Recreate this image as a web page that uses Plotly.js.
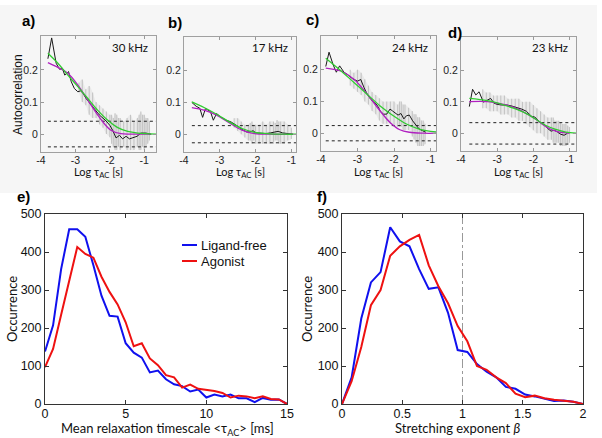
<!DOCTYPE html>
<html>
<head>
<meta charset="utf-8">
<script src="https://cdn.plot.ly/plotly-3.0.1.min.js"></script>
<style>html,body{margin:0;padding:0;background:#fff;}#chart{width:602px;height:438px;}</style>
</head>
<body>
<div id="chart"></div>
<script>
// ---------- Top panels: autocorrelation vs log tau_AC ----------
const topTickVals = [-4, -3, -2, -1];
const topTickText = ['-4', '-3', '-2', '-1'];
const acTickVals = [0, 0.1, 0.2];
const acTickText = ['0', '0.1', '0.2'];
const freqLabels = ['30 kHz', '17 kHz', '24 kHz', '23 kHz'];
const panelLabels = ['a)', 'b)', 'c)', 'd)', 'e)', 'f)'];

// Panel a
const aBlackX = [-3.8, -3.69, -3.56, -3.46, -3.38, -3.31, -3.2, -3.12, -3.03, -2.93, -2.85, -2.78, -2.69, -2.59, -2.5, -2.4, -2.3, -2.2, -2.11, -2.0, -1.92, -1.82, -1.72, -1.63, -1.53, -1.43, -1.34, -1.21, -1.1, -0.95, -0.8];
const aBlackY = [0.235, 0.3, 0.221, 0.202, 0.205, 0.184, 0.195, 0.163, 0.142, 0.132, 0.135, 0.127, 0.111, 0.097, 0.083, 0.072, 0.059, 0.051, 0.041, 0.027, 0.012, -0.012, -0.004, -0.015, -0.007, -0.015, -0.012, -0.007, 0.003, 0.003, -0.001];
const aMagX = [-3.8, -3.51, -3.22, -2.93, -2.64, -2.35, -2.16, -1.97, -1.68, -1.3, -0.8];
const aMagY = [0.223, 0.208, 0.19, 0.153, 0.106, 0.059, 0.032, 0.012, 0.001, 0, 0];
const aGrnX = [-3.8, -3.51, -3.22, -2.93, -2.64, -2.35, -2.06, -1.77, -1.48, -1.19, -0.66];
const aGrnY = [0.252, 0.221, 0.184, 0.148, 0.111, 0.074, 0.043, 0.02, 0.008, 0.003, 0];
const aThr = 0.04;
const aThrX = [-3.8, -0.66];
const aStrX = [-2.9, -2.8, -2.7, -2.6, -2.5, -2.4, -2.3, -2.2, -2.1, -2.0, -1.95, -1.9, -1.85, -1.8, -1.75, -1.7, -1.6, -1.5, -1.4, -1.3, -1.2, -1.15, -1.1, -1.05, -1.0, -0.95, -0.9, -0.85];
const aStrLo = [0.13, 0.1, 0.09, 0.06, 0.05, 0.05, 0.03, 0.02, 0.0, -0.01, -0.03, -0.04, -0.05, -0.05, -0.04, -0.05, -0.04, -0.05, -0.05, -0.05, -0.04, -0.05, -0.05, -0.04, -0.05, -0.04, -0.03, -0.02];
const aStrHi = [0.16, 0.17, 0.14, 0.15, 0.13, 0.1, 0.09, 0.08, 0.07, 0.06, 0.06, 0.05, 0.065, 0.06, 0.05, 0.05, 0.04, 0.05, 0.06, 0.04, 0.05, 0.06, 0.07, 0.06, 0.06, 0.05, 0.05, 0.04];

// Panel b
const bBlackX = [-3.78, -3.66, -3.56, -3.48, -3.4, -3.26, -3.18, -3.09, -2.96, -2.82, -2.69, -2.56, -2.47, -2.38, -2.25, -2.16, -2.07, -1.99, -1.85, -1.72, -1.59, -1.46, -1.37, -1.24, -1.1, -0.95];
const bBlackY = [0.1, 0.088, 0.082, 0.053, 0.081, 0.071, 0.044, 0.065, 0.053, 0.044, 0.039, 0.031, 0.023, 0.015, 0.007, 0.007, 0.011, 0.004, 0.002, 0.002, 0.004, 0.007, 0.009, 0.004, 0.001, 0.0];
const bMagX = [-3.78, -3.44, -3.09, -2.74, -2.38, -2.03, -1.6, -0.95];
const bMagY = [0.084, 0.076, 0.06, 0.036, 0.013, 0.002, 0, 0];
const bGrnX = [-3.78, -3.44, -3.09, -2.74, -2.38, -2.03, -1.68, -1.2, -0.87];
const bGrnY = [0.102, 0.084, 0.063, 0.039, 0.018, 0.006, 0.002, 0.0, 0];
const bThr = 0.027;
const bThrX = [-3.78, -0.87];
const bStrX = [-2.6, -2.5, -2.4, -2.3, -2.2, -2.15, -2.1, -2.05, -2.0, -1.9, -1.8, -1.7, -1.6, -1.5, -1.45, -1.4, -1.35, -1.3, -1.2, -1.1, -1.0];
const bStrLo = [0.02, 0.01, 0.0, -0.01, -0.02, -0.02, -0.03, -0.02, -0.03, -0.03, -0.03, -0.03, -0.03, -0.03, -0.02, -0.02, -0.03, -0.03, -0.03, -0.02, -0.015];
const bStrHi = [0.05, 0.05, 0.04, 0.03, 0.03, 0.035, 0.04, 0.03, 0.03, 0.03, 0.04, 0.03, 0.04, 0.04, 0.035, 0.045, 0.04, 0.04, 0.04, 0.03, 0.02];

// Panel c
const cBlackX = [-3.87, -3.78, -3.67, -3.58, -3.49, -3.37, -3.27, -3.13, -3.0, -2.91, -2.82, -2.73, -2.64, -2.55, -2.46, -2.38, -2.29, -2.2, -2.11, -2.04, -1.97, -1.89, -1.81, -1.73, -1.66, -1.58, -1.49, -1.4, -1.31, -1.22, -1.13];
const cBlackY = [0.21, 0.255, 0.216, 0.192, 0.212, 0.192, 0.184, 0.171, 0.164, 0.169, 0.143, 0.122, 0.107, 0.096, 0.088, 0.07, 0.06, 0.06, 0.076, 0.07, 0.065, 0.057, 0.062, 0.045, 0.055, 0.057, 0.039, 0.024, 0.013, 0.008, 0.003];
const cMagX = [-3.87, -3.44, -3.09, -2.73, -2.38, -2.11, -1.84, -1.58, -1.2, -0.85];
const cMagY = [0.205, 0.195, 0.169, 0.122, 0.07, 0.034, 0.011, 0.003, 0.0, 0];
const cGrnX = [-3.87, -3.44, -3.09, -2.73, -2.38, -2.02, -1.66, -1.31, -0.85];
const cGrnY = [0.236, 0.195, 0.159, 0.122, 0.086, 0.055, 0.029, 0.013, 0.004];
const cThr = 0.024;
const cThrX = [-3.87, -0.85];
const cStrX = [-3.2, -3.1, -3.0, -2.9, -2.8, -2.7, -2.6, -2.5, -2.4, -2.3, -2.2, -2.1, -2.0, -1.9, -1.85, -1.8, -1.75, -1.7, -1.6, -1.5, -1.45, -1.4, -1.35, -1.3, -1.25, -1.2, -1.15];
const cStrLo = [0.15, 0.14, 0.13, 0.12, 0.1, 0.09, 0.07, 0.06, 0.04, 0.03, 0.03, 0.03, 0.02, 0.02, 0.02, 0.02, 0.01, 0.01, 0.01, -0.01, -0.02, -0.03, -0.04, -0.04, -0.04, -0.04, -0.035];
const cStrHi = [0.2, 0.19, 0.2, 0.19, 0.17, 0.15, 0.13, 0.12, 0.11, 0.1, 0.1, 0.1, 0.1, 0.09, 0.1, 0.1, 0.09, 0.09, 0.08, 0.07, 0.06, 0.06, 0.05, 0.05, 0.04, 0.04, 0.03];

// Panel d
const dBlackX = [-3.77, -3.68, -3.59, -3.5, -3.38, -3.27, -3.18, -3.09, -3.0, -2.87, -2.73, -2.6, -2.46, -2.32, -2.19, -2.05, -1.96, -1.87, -1.78, -1.69, -1.6, -1.51, -1.42, -1.33, -1.24, -1.15, -1.06];
const dBlackY = [0.085, 0.14, 0.122, 0.132, 0.099, 0.106, 0.111, 0.096, 0.092, 0.09, 0.09, 0.087, 0.083, 0.077, 0.07, 0.054, 0.052, 0.042, 0.031, 0.028, 0.015, 0.007, 0.01, 0.004, -0.003, -0.006, 0.0];
const dMagX = [-3.77, -3.27, -2.91, -2.55, -2.19, -1.92, -1.65, -1.38, -1.15, -1.0];
const dMagY = [0.101, 0.101, 0.094, 0.083, 0.0625, 0.044, 0.021, 0.007, 0.002, 0];
const dGrnX = [-3.77, -3.27, -2.91, -2.55, -2.19, -1.92, -1.65, -1.38, -1.1, -0.82];
const dGrnY = [0.111, 0.104, 0.094, 0.08, 0.0625, 0.044, 0.025, 0.0125, 0.004, 0.001];
const dThr = 0.034;
const dThrX = [-3.77, -0.82];
const dStrX = [-3.4, -3.3, -3.2, -3.1, -3.0, -2.9, -2.8, -2.7, -2.6, -2.5, -2.4, -2.3, -2.2, -2.1, -2.0, -1.9, -1.8, -1.7, -1.6, -1.5, -1.45, -1.4, -1.35, -1.3, -1.25, -1.2, -1.15, -1.1, -1.05, -1.0];
const dStrLo = [0.08, 0.08, 0.07, 0.07, 0.07, 0.06, 0.06, 0.06, 0.05, 0.05, 0.04, 0.04, 0.03, 0.02, 0.01, 0.0, 0.0, -0.01, -0.02, -0.02, -0.03, -0.03, -0.03, -0.03, -0.04, -0.04, -0.04, -0.04, -0.035, -0.03];
const dStrHi = [0.14, 0.13, 0.13, 0.12, 0.12, 0.12, 0.12, 0.11, 0.11, 0.11, 0.11, 0.1, 0.1, 0.1, 0.09, 0.08, 0.07, 0.06, 0.05, 0.05, 0.05, 0.04, 0.04, 0.04, 0.035, 0.03, 0.03, 0.03, 0.025, 0.02];

// ---------- Panel e: mean relaxation timescale histogram ----------
const eX = [0, 0.5, 1, 1.5, 2, 2.5, 3, 3.5, 4, 4.5, 5, 5.5, 6, 6.5, 7, 7.5, 8, 8.5, 9, 9.5, 10, 10.5, 11, 11.5, 12, 12.5, 13, 13.5, 14, 14.5, 15];
const eLigandFree = [138, 207, 355, 460, 460, 440, 365, 285, 232, 230, 160, 135, 122, 83, 88, 65, 52, 47, 33, 38, 17, 25, 20, 25, 15, 15, 5, 16, 11, 12, 0];
const eAgonist = [97, 145, 235, 320, 413, 395, 385, 335, 295, 262, 215, 152, 160, 120, 102, 76, 70, 43, 51, 40, 37, 34, 29, 17, 22, 20, 15, 20, 13, 12, 0];

// ---------- Panel f: stretching exponent histogram ----------
const fX = [0, 0.08, 0.16, 0.24, 0.32, 0.4, 0.48, 0.56, 0.64, 0.72, 0.8, 0.88, 0.96, 1.04, 1.12, 1.2, 1.28, 1.36, 1.44, 1.52, 1.6, 1.68, 1.76, 1.84, 1.92, 2.0];
const fLigandFree = [0, 70, 225, 320, 347, 465, 428, 415, 355, 303, 307, 240, 142, 137, 105, 85, 70, 45, 40, 25, 20, 13, 8, 9, 6, 0];
const fAgonist = [0, 60, 150, 260, 300, 390, 415, 432, 445, 365, 310, 265, 205, 165, 100, 90, 70, 55, 27, 18, 22, 15, 11, 8, 6, 0];
const refBeta = 1;
const seriesNames = ['Ligand-free', 'Agonist'];

// ---------- layout helpers ----------
const W = 602, H = 438;
const dx = (l, r) => [l / W, r / W];
const dy = (t, b) => [1 - b / H, 1 - t / H];
const px = v => v / W;
const py = v => 1 - v / H;

const BLUE = '#1010ee', RED = '#ee1111', MAG = '#b020c0', GRN = '#30cc30';
const SANS = 'Liberation Sans, Arial, sans-serif';
const CAL = 'Lato, Open Sans, sans-serif';

const topPanels = [
  {ax: '', box: [41, 156, 36, 152], xr: [-4, -0.66], bx: aBlackX, by: aBlackY, mx: aMagX, my: aMagY, gx: aGrnX, gy: aGrnY, thr: aThr, thrX: aThrX, sx: aStrX, slo: aStrLo, shi: aStrHi},
  {ax: '2', box: [184, 296, 37, 152], xr: [-4, -0.87], bx: bBlackX, by: bBlackY, mx: bMagX, my: bMagY, gx: bGrnX, gy: bGrnY, thr: bThr, thrX: bThrX, sx: bStrX, slo: bStrLo, shi: bStrHi},
  {ax: '3', box: [321, 436, 36, 151], xr: [-4, -0.85], bx: cBlackX, by: cBlackY, mx: cMagX, my: cMagY, gx: cGrnX, gy: cGrnY, thr: cThr, thrX: cThrX, sx: cStrX, slo: cStrLo, shi: cStrHi},
  {ax: '4', box: [461, 576, 37, 151], xr: [-4, -0.82], bx: dBlackX, by: dBlackY, mx: dMagX, my: dMagY, gx: dGrnX, gy: dGrnY, thr: dThr, thrX: dThrX, sx: dStrX, slo: dStrLo, shi: dStrHi}
];

const traces = [];
const layout = {
  width: W, height: H,
  margin: {l: 0, r: 0, t: 0, b: 0},
  paper_bgcolor: '#ffffff',
  plot_bgcolor: 'rgba(0,0,0,0)',
  showlegend: false,
  shapes: [
    {type: 'rect', xref: 'paper', yref: 'paper', x0: 0, x1: px(597), y0: py(193), y1: py(5), fillcolor: '#f6f6f6', line: {width: 0}, layer: 'below'}
  ],
  annotations: []
};

function streakXY(xs, lo, hi) {
  const X = [], Y = [];
  xs.forEach((x, i) => { X.push(x, x, null); Y.push(lo[i], hi[i], null); });
  return {X, Y};
}

topPanels.forEach((p, i) => {
  const xa = 'x' + p.ax, ya = 'y' + p.ax;
  // soft envelope of the raw scatter
  traces.push({x: p.sx.concat(p.sx.slice().reverse()), y: p.shi.concat(p.slo.slice().reverse()), xaxis: xa, yaxis: ya, mode: 'lines', fill: 'toself', fillcolor: 'rgba(150,150,150,0.12)', line: {width: 0, shape: 'spline'}, hoverinfo: 'skip'});
  const s = streakXY(p.sx, p.slo, p.shi);
  traces.push({x: s.X, y: s.Y, xaxis: xa, yaxis: ya, mode: 'lines', line: {color: 'rgba(110,110,110,0.3)', width: 1.1}, connectgaps: false, hoverinfo: 'skip'});
  [p.thr, -p.thr].forEach(t => {
    traces.push({x: p.thrX, y: p.thrX.map(() => t), xaxis: xa, yaxis: ya, mode: 'lines', line: {color: '#222', width: 1, dash: 'dot'}});
  });
  traces.push({x: p.bx, y: p.by, xaxis: xa, yaxis: ya, mode: 'lines', line: {color: '#1a1a1a', width: 1}});
  traces.push({x: p.mx, y: p.my, xaxis: xa, yaxis: ya, mode: 'lines', line: {color: MAG, width: 1.3, shape: 'spline', smoothing: 1}});
  traces.push({x: p.gx, y: p.gy, xaxis: xa, yaxis: ya, mode: 'lines', line: {color: GRN, width: 1.3, shape: 'spline', smoothing: 1}});

  const [l, r, t, b] = p.box;
  layout['xaxis' + p.ax] = {
    domain: dx(l, r), range: p.xr, anchor: ya,
    tickvals: topTickVals, ticktext: topTickText, ticklabelstandoff: -2,
    ticks: 'inside', ticklen: 3, tickcolor: '#999', showline: true, mirror: 'ticks',
    linecolor: '#a0a0a0', linewidth: 1, showgrid: false, zeroline: false,
    tickfont: {family: SANS, size: 10.5, color: '#222'}
  };
  layout['yaxis' + p.ax] = {
    domain: dy(t, b), range: [-0.056, 0.306], anchor: xa,
    tickvals: acTickVals, ticktext: acTickText,
    ticks: 'inside', ticklen: 3, tickcolor: '#999', showline: true, mirror: 'ticks',
    linecolor: '#a0a0a0', linewidth: 1, showgrid: false, zeroline: false,
    tickfont: {family: SANS, size: 10.5, color: '#222'}
  };
  layout.annotations.push({xref: 'paper', yref: 'paper', x: px(r - 6), y: py(47.5), xanchor: 'right', yanchor: 'middle', text: freqLabels[i], showarrow: false, font: {family: CAL, size: 11.5, color: '#111'}});
  layout.annotations.push({xref: 'paper', yref: 'paper', x: px((l + r) / 2), y: py(173), xanchor: 'center', yanchor: 'middle', text: 'Log τ<sub>AC</sub> [s]', showarrow: false, font: {family: CAL, size: 11, color: '#111'}});
});

// Panel label positions
const labelPos = [[28, 21], [175, 22], [312, 19], [455, 32], [23, 196], [322, 197]];
labelPos.forEach((pp, i) => {
  layout.annotations.push({xref: 'paper', yref: 'paper', x: px(pp[0]), y: py(pp[1]), xanchor: 'center', yanchor: 'middle', text: '<b>' + panelLabels[i] + '</b>', showarrow: false, font: {family: SANS, size: 15, color: '#000'}});
});
layout.annotations.push({xref: 'paper', yref: 'paper', x: px(18), y: py(95), textangle: -90, xanchor: 'center', yanchor: 'middle', text: 'Autocorrelation', showarrow: false, font: {family: SANS, size: 12, color: '#111'}});

// Bottom panels
traces.push({x: eX, y: eLigandFree, xaxis: 'x5', yaxis: 'y5', mode: 'lines', name: seriesNames[0], line: {color: BLUE, width: 2}});
traces.push({x: eX, y: eAgonist, xaxis: 'x5', yaxis: 'y5', mode: 'lines', name: seriesNames[1], line: {color: RED, width: 2}});
traces.push({x: [refBeta, refBeta], y: [0, 500], xaxis: 'x6', yaxis: 'y6', mode: 'lines', line: {color: '#999', width: 1, dash: 'dashdot'}});
traces.push({x: fX, y: fLigandFree, xaxis: 'x6', yaxis: 'y6', mode: 'lines', name: seriesNames[0], line: {color: BLUE, width: 2}});
traces.push({x: fX, y: fAgonist, xaxis: 'x6', yaxis: 'y6', mode: 'lines', name: seriesNames[1], line: {color: RED, width: 2}});

const botAxis = {
  ticks: 'inside', ticklen: 4, tickcolor: '#333', showline: true, mirror: 'ticks',
  linecolor: '#333', linewidth: 1, showgrid: false, zeroline: false,
  tickfont: {family: SANS, size: 12.5, color: '#111'}
};
layout.xaxis5 = Object.assign({}, botAxis, {domain: dx(45, 287), range: [0, 15], anchor: 'y5', tickvals: [0, 5, 10, 15], ticklabelstandoff: -2});
layout.yaxis5 = Object.assign({}, botAxis, {domain: dy(214, 404), range: [0, 500], anchor: 'x5', tickvals: [0, 100, 200, 300, 400, 500]});
layout.xaxis6 = Object.assign({}, botAxis, {domain: dx(342, 583), range: [0, 2], anchor: 'y6', tickvals: [0, 0.5, 1, 1.5, 2], ticktext: ['0', '0.5', '1', '1.5', '2'], ticklabelstandoff: -2});
layout.yaxis6 = Object.assign({}, botAxis, {domain: dy(214, 404), range: [0, 500], anchor: 'x6', tickvals: [0, 100, 200, 300, 400, 500]});

layout.annotations.push({xref: 'paper', yref: 'paper', x: px(12), y: py(309), textangle: -90, xanchor: 'center', yanchor: 'middle', text: 'Occurrence', showarrow: false, font: {family: CAL, size: 13, color: '#111'}});
layout.annotations.push({xref: 'paper', yref: 'paper', x: px(307), y: py(309), textangle: -90, xanchor: 'center', yanchor: 'middle', text: 'Occurrence', showarrow: false, font: {family: CAL, size: 13, color: '#111'}});
layout.annotations.push({xref: 'paper', yref: 'paper', x: px(167), y: py(428.5), xanchor: 'center', yanchor: 'middle', text: 'Mean relaxation timescale &lt;τ<sub>AC</sub>&gt; [ms]', showarrow: false, font: {family: CAL, size: 13, color: '#111'}});
layout.annotations.push({xref: 'paper', yref: 'paper', x: px(457), y: py(428), xanchor: 'center', yanchor: 'middle', text: 'Stretching exponent <i>β</i>', showarrow: false, font: {family: CAL, size: 13, color: '#111'}});

// legend in panel e (drawn manually)
[[BLUE, 245, seriesNames[0]], [RED, 261, seriesNames[1]]].forEach(l => {
  layout.shapes.push({type: 'line', xref: 'paper', yref: 'paper', x0: px(182), x1: px(197), y0: py(l[1]), y1: py(l[1]), line: {color: l[0], width: 2}});
  layout.annotations.push({xref: 'paper', yref: 'paper', x: px(199), y: py(l[1]), xanchor: 'left', yanchor: 'middle', text: l[2], showarrow: false, font: {family: SANS, size: 13, color: '#111'}});
});

Plotly.newPlot('chart', traces, layout, {staticPlot: true, displayModeBar: false});
</script>
</body>
</html>
